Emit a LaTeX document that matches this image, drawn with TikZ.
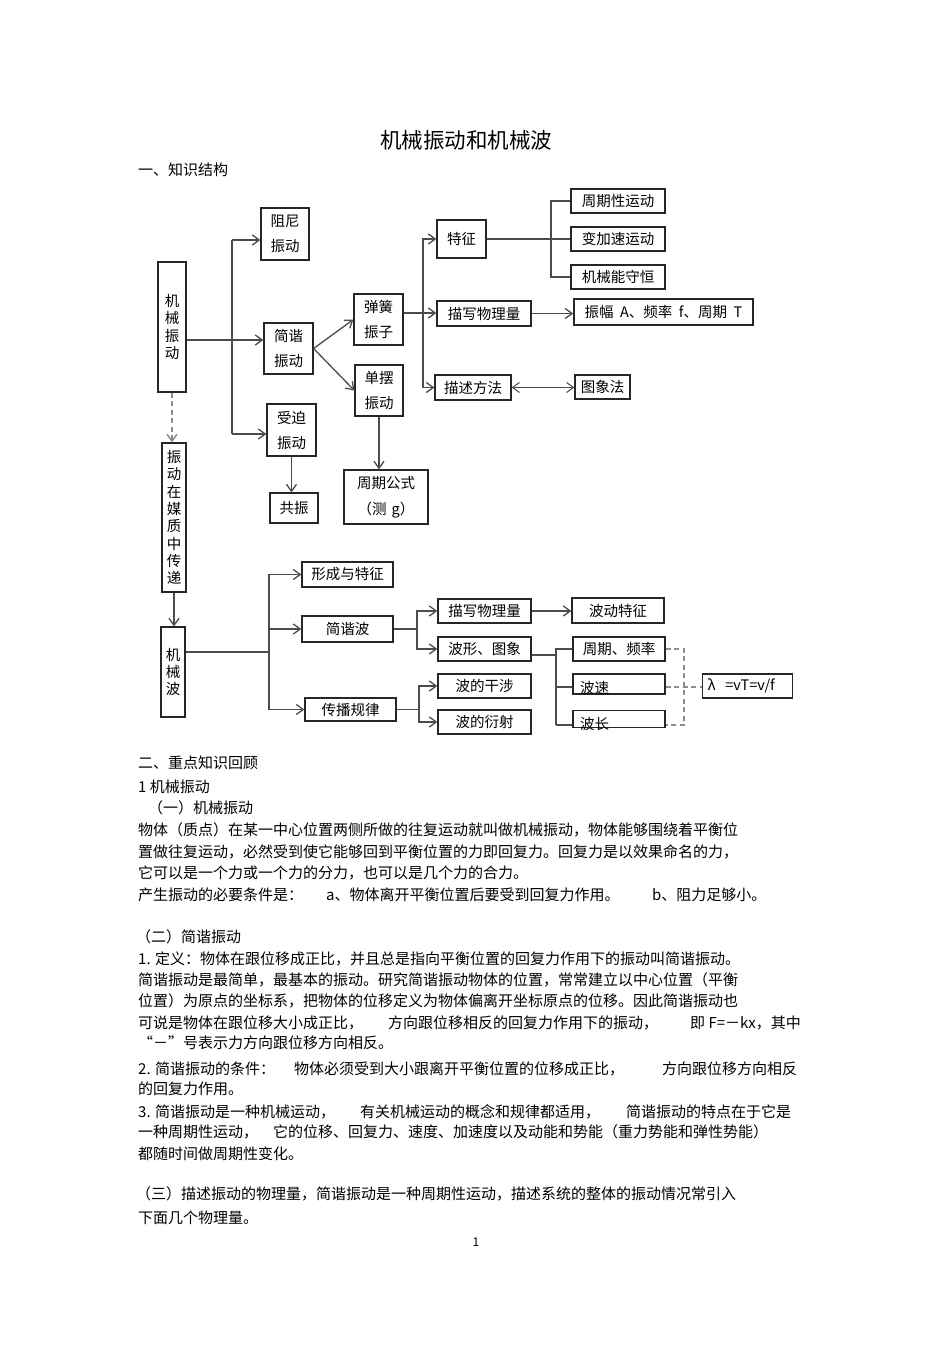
\documentclass[tikz,border=0pt]{standalone}
\usepackage{fontspec}
\setmainfont{Noto Sans CJK SC}
\usetikzlibrary{arrows.meta}
\begin{document}
\begin{tikzpicture}[x=1pt,y=-1pt,
  bx/.style={draw=black!85, line width=1.2pt, inner sep=0pt, font=\fontsize{14.5}{17}\selectfont},
  two/.style={bx, align=center, font=\fontsize{14.5}{25}\selectfont},
  vert/.style={bx, align=center, font=\fontsize{14.5}{17.3}\selectfont},
  conn/.style={draw=black!70, line width=1.3pt},
  arr/.style={conn, -{Straight Barb[length=7pt,width=10pt]}},
  darr/.style={conn, line width=1pt, {Straight Barb[length=7pt,width=10pt]}-{Straight Barb[length=7pt,width=10pt]}},
  dsh/.style={draw=black!45, line width=1.4pt, dash pattern=on 5pt off 3.5pt},
  txt/.style={anchor=west, inner sep=0pt, font=\fontsize{15}{17}\selectfont}
]
\useasboundingbox (0,0) rectangle (950,1346);
\fill[white] (0,0) rectangle (950,1346);

% title
\node[inner sep=0pt, font=\fontsize{21.5}{24}\selectfont] (title) at (466,140) {机械振动和机械波};
\node[txt] (s1) at (138,170) {一、知识结构};

% ---- vibration part ----
\node[vert, minimum width=28pt, minimum height=130pt] (jxzd) at (172,327) {机\\械\\振\\动};
\node[two, minimum width=48pt, minimum height=52pt] (zn) at (285,234) {阻尼\\振动};
\node[two, minimum width=49pt, minimum height=51pt] (jx) at (288.5,348.5) {简谐\\振动};
\node[two, minimum width=49pt, minimum height=52pt] (sp) at (291.5,430) {受迫\\振动};
\node[bx, minimum width=48pt, minimum height=30pt] (gz) at (294,508) {共振};
\node[two, minimum width=49pt, minimum height=51pt] (thz) at (378.5,319.5) {弹簧\\振子};
\node[two, minimum width=48pt, minimum height=51pt] (db) at (379,390.5) {单摆\\振动};
\node[two, minimum width=84pt, minimum height=54pt, font=\fontsize{14.5}{26}\selectfont] (zqgs) at (386,497) {周期公式\\（测\,\,g）};
\node[bx, minimum width=49pt, minimum height=38pt] (tz) at (461.5,239) {特征};
\node[bx, minimum width=94pt, minimum height=25pt] (mx1) at (484,313.5) {描写物理量};
\node[bx, minimum width=76pt, minimum height=25pt] (msff) at (473,387.5) {描述方法};
\node[bx, minimum width=94pt, minimum height=24pt] (zqx) at (618,201) {周期性运动};
\node[bx, minimum width=94pt, minimum height=24pt] (bjs) at (618,239) {变加速运动};
\node[bx, minimum width=94pt, minimum height=24pt] (jxn) at (618,277) {机械能守恒};
\node[bx, minimum width=179pt, minimum height=26pt, line width=1.6pt] (zf) at (663.5,312) {振幅\ \ A、频率\ \ f、周期\ \ T};
\node[bx, minimum width=55pt, minimum height=24pt] (txf) at (602.5,387) {图象法};

% connectors (vibration)
\coordinate (t1) at (232,340);
\coordinate (t1a) at (232,240);
\coordinate (t1b) at (232,434);
\draw[arr] (jxzd.east |- t1) -- (jx.west |- t1);
\draw[conn] (t1a) -- (t1b);
\draw[arr] (t1a) -- (zn.west |- t1a);
\draw[arr] (t1b) -- (sp.west |- t1b);
\draw[arr] (jx.east) -- (thz.west);
\draw[arr] (jx.east) -- (db.west);
\draw[arr] (db.south) -- (db.south |- zqgs.north);
\draw[arr] (sp.south) -- (sp.south |- gz.north);

\coordinate (t2) at (423,313);
\draw[arr] (thz.east |- t2) -- (mx1.west |- t2);
\draw[arr] (t2) |- (tz.west);
\draw[arr] (t2) |- (msff.west);

\coordinate (t3) at (551,239);
\draw[conn] (tz.east) -- (bjs.west);
\draw[conn] (t3) |- (zqx.west);
\draw[conn] (t3) |- (jxn.west);

\draw[arr] (mx1.east) -- (zf.west |- mx1.east);
\draw[darr] (msff.east) -- (txf.west |- msff.east);

% ---- wave part ----
\node[vert, minimum width=24pt, minimum height=149pt] (cd) at (174,517.5) {振\\动\\在\\媒\\质\\中\\传\\递};
\node[vert, minimum width=24pt, minimum height=90pt] (jxb) at (173,672) {机\\械\\波};
\node[bx, minimum width=91pt, minimum height=25pt] (xc) at (347.5,574.5) {形成与特征};
\node[bx, minimum width=91pt, minimum height=26pt] (jxbo) at (347.5,629) {简谐波};
\node[bx, minimum width=91pt, minimum height=23pt] (cb) at (350.5,709.5) {传播规律};
\node[bx, minimum width=93pt, minimum height=24pt] (mx2) at (484.5,611) {描写物理量};
\node[bx, minimum width=93pt, minimum height=24pt] (bxt) at (484.5,649) {波形、图象};
\node[bx, minimum width=93pt, minimum height=24pt] (gs) at (484.5,686) {波的干涉};
\node[bx, minimum width=93pt, minimum height=24pt] (ys) at (484.5,722) {波的衍射};
\node[bx, minimum width=92pt, minimum height=25pt] (bdtz) at (618,610.5) {波动特征};
\node[bx, minimum width=92pt, minimum height=24pt] (zqpl) at (619,649) {周期、频率};
\node[bx, minimum width=92pt, minimum height=20pt] (bs) at (619,684) {};
\node[txt, font=\fontsize{14.5}{17}\selectfont] (bst) at (580,688) {波速};
\node[bx, minimum width=92pt, minimum height=17pt] (bc) at (619,719) {};
\node[txt, font=\fontsize{14.5}{17}\selectfont] (bct) at (580,724) {波长};
\node[bx, minimum width=90pt, minimum height=24pt, anchor=west, text width=84pt, align=left] (lam) at (702,686) {\hspace{2pt}λ\ \ =vT=v/f};

\draw[dsh, -{Straight Barb[length=7pt,width=10pt]}] (jxzd.south) -- (jxzd.south |- cd.north);
\draw[arr] (cd.south) -- (cd.south |- jxb.north);

\coordinate (t4) at (269,652);
\draw[conn] (jxb.east |- t4) -- (t4);
\draw[arr] (t4) |- (xc.west);
\draw[arr] (t4) |- (cb.west);
\draw[arr] (t4 |- jxbo.west) -- (jxbo.west);

\coordinate (t5) at (417,629);
\draw[conn] (jxbo.east) -- (t5);
\draw[arr] (t5) |- (mx2.west);
\draw[arr] (t5) |- (bxt.west);

\coordinate (t6) at (419,709.5);
\draw[conn] (cb.east) -- (t6);
\draw[arr] (t6) |- (gs.west);
\draw[arr] (t6) |- (ys.west);

\draw[arr] (mx2.east) -- (bdtz.west |- mx2.east);

\coordinate (t7) at (556,655);
\coordinate (t7a) at (556,687);
\coordinate (t7b) at (556,725);
\draw[conn] (bxt.east |- t7) -- (t7);
\draw[conn] (t7) |- (zqpl.west);
\draw[conn] (t7) -- (t7b);
\draw[conn] (t7a) -- (bs.west |- t7a);
\draw[conn] (t7b) -- (bc.west |- t7b);

\coordinate (d1) at (684,649);
\coordinate (d2) at (684,725);
\coordinate (d3) at (684,687);
\draw[dsh] (zqpl.east) -- (d1) -- (d2) -- (bc.east |- d2);
\draw[dsh] (bs.east |- d3) -- (lam.west |- d3);

% ---- body text ----
\node[txt] (l1) at (138,763) {二、重点知识回顾};
\node[txt] (l2) at (138,787) {1 机械振动};
\node[txt] (l3) at (148,808) {（一）机械振动};
\node[txt] (l4) at (138,830) {物体（质点）在某一中心位置两侧所做的往复运动就叫做机械振动，物体能够围绕着平衡位};
\node[txt] (l5) at (138,852) {置做往复运动，必然受到使它能够回到平衡位置的力即回复力。回复力是以效果命名的力，};
\node[txt] (l6) at (138,873) {它可以是一个力或一个力的分力，也可以是几个力的合力。};
\node[txt] (l7a) at (138,895) {产生振动的必要条件是：};
\node[txt] (l7b) at (326,895) {a、物体离开平衡位置后要受到回复力作用。};
\node[txt] (l7c) at (652,895) {b、阻力足够小。};

\node[txt] (m1) at (136,937) {（二）简谐振动};
\node[txt] (m2) at (138,959) {1. 定义：物体在跟位移成正比，并且总是指向平衡位置的回复力作用下的振动叫简谐振动。};
\node[txt] (m3) at (138,980) {简谐振动是最简单，最基本的振动。研究简谐振动物体的位置，常常建立以中心位置（平衡};
\node[txt] (m4) at (138,1001) {位置）为原点的坐标系，把物体的位移定义为物体偏离开坐标原点的位移。因此简谐振动也};
\node[txt] (m5a) at (138,1023) {可说是物体在跟位移大小成正比，};
\node[txt] (m5b) at (388,1023) {方向跟位移相反的回复力作用下的振动，};
\node[txt] (m5c) at (690,1023) {即 F=－kx，其中};
\node[txt] (m6) at (138,1043) {“－”号表示力方向跟位移方向相反。};
\node[txt] (m7a) at (138,1069) {2. 简谐振动的条件：};
\node[txt] (m7b) at (294,1069) {物体必须受到大小跟离开平衡位置的位移成正比，};
\node[txt] (m7c) at (662,1069) {方向跟位移方向相反};
\node[txt] (m8) at (138,1089) {的回复力作用。};
\node[txt] (m9a) at (138,1112) {3. 简谐振动是一种机械运动，};
\node[txt] (m9b) at (360,1112) {有关机械运动的概念和规律都适用，};
\node[txt] (m9c) at (626,1112) {简谐振动的特点在于它是};
\node[txt] (m10a) at (138,1132) {一种周期性运动，};
\node[txt] (m10b) at (273,1132) {它的位移、回复力、速度、加速度以及动能和势能（重力势能和弹性势能）};
\node[txt] (m11) at (138,1154) {都随时间做周期性变化。};
\node[txt] (n1) at (136,1194) {（三）描述振动的物理量，简谐振动是一种周期性运动，描述系统的整体的振动情况常引入};
\node[txt] (n2) at (138,1218) {下面几个物理量。};
\node[inner sep=0pt, font=\fontsize{12}{14}\selectfont] (pg) at (476,1242) {1};
\end{tikzpicture}
\end{document}
